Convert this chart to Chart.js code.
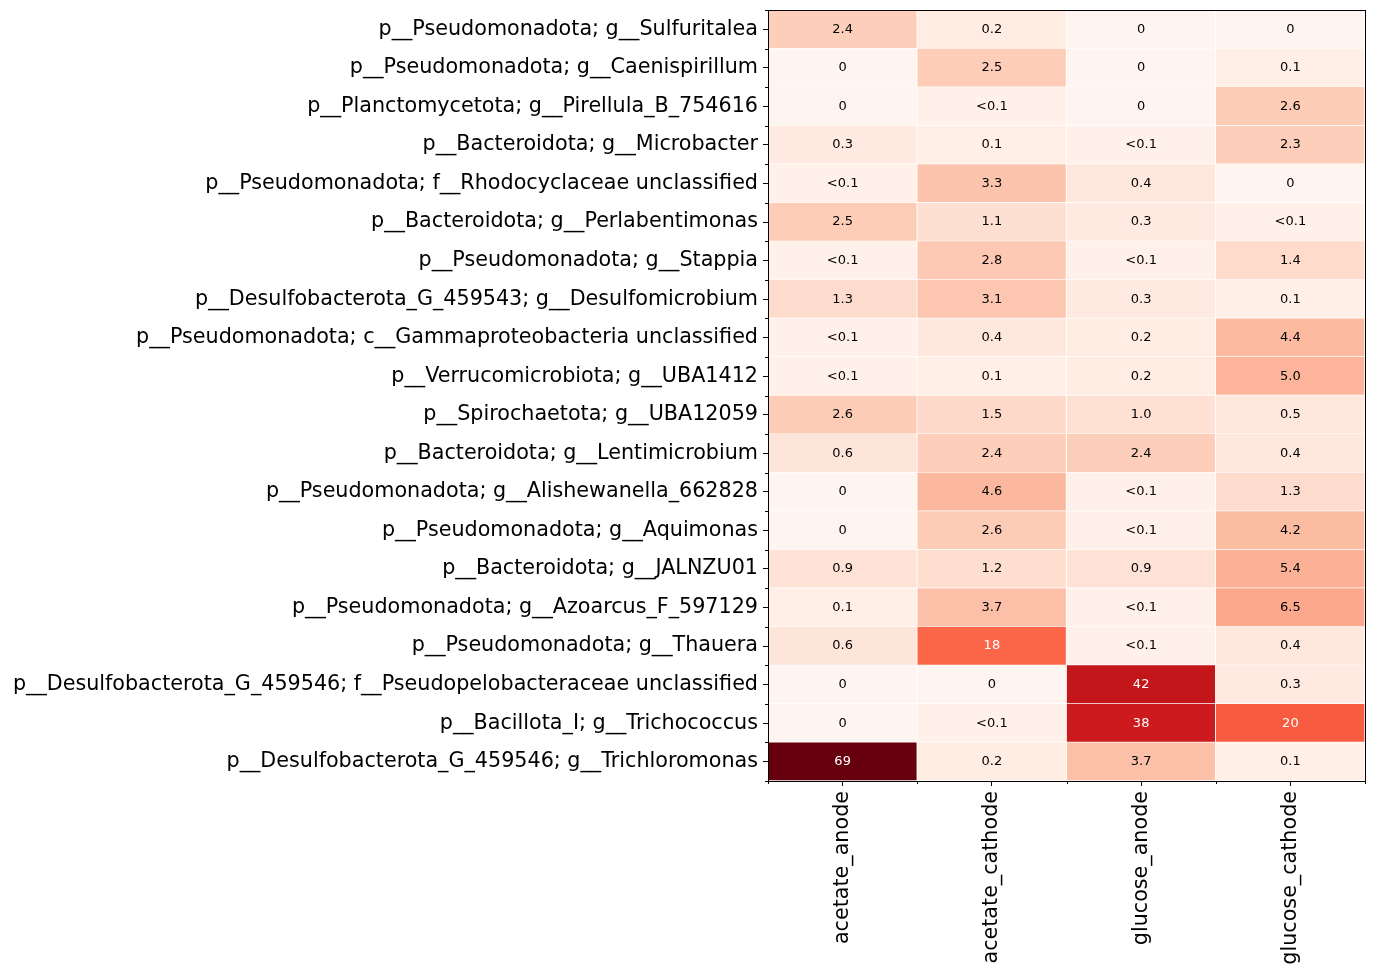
<!DOCTYPE html>
<html>
<head>
<meta charset="utf-8">
<script src="https://cdn.jsdelivr.net/npm/chart.js@4.4.1/dist/chart.umd.min.js"></script>
<style>
  html, body { margin: 0; padding: 0; background: #fff; }
  #wrap { width: 1375px; height: 975px; }
</style>
</head>
<body>
<div id="wrap"><canvas id="heatmap" width="1375" height="975"></canvas></div>
<script>
// rows (top to bottom) and columns of the heatmap
const taxa = [
  'p__Pseudomonadota; g__Sulfuritalea',
  'p__Pseudomonadota; g__Caenispirillum',
  'p__Planctomycetota; g__Pirellula_B_754616',
  'p__Bacteroidota; g__Microbacter',
  'p__Pseudomonadota; f__Rhodocyclaceae unclassified',
  'p__Bacteroidota; g__Perlabentimonas',
  'p__Pseudomonadota; g__Stappia',
  'p__Desulfobacterota_G_459543; g__Desulfomicrobium',
  'p__Pseudomonadota; c__Gammaproteobacteria unclassified',
  'p__Verrucomicrobiota; g__UBA1412',
  'p__Spirochaetota; g__UBA12059',
  'p__Bacteroidota; g__Lentimicrobium',
  'p__Pseudomonadota; g__Alishewanella_662828',
  'p__Pseudomonadota; g__Aquimonas',
  'p__Bacteroidota; g__JALNZU01',
  'p__Pseudomonadota; g__Azoarcus_F_597129',
  'p__Pseudomonadota; g__Thauera',
  'p__Desulfobacterota_G_459546; f__Pseudopelobacteraceae unclassified',
  'p__Bacillota_I; g__Trichococcus',
  'p__Desulfobacterota_G_459546; g__Trichloromonas'
];
const samples = ['acetate_anode', 'acetate_cathode', 'glucose_anode', 'glucose_cathode'];

// relative abundance (%) per sample, 0.05 stands for "<0.1"
const acetateAnode   = [2.4, 0, 0, 0.3, 0.05, 2.5, 0.05, 1.3, 0.05, 0.05, 2.6, 0.6, 0, 0, 0.9, 0.1, 0.6, 0, 0, 69];
const acetateCathode = [0.2, 2.5, 0.05, 0.1, 3.3, 1.1, 2.8, 3.1, 0.4, 0.1, 1.5, 2.4, 4.6, 2.6, 1.2, 3.7, 18, 0, 0.05, 0.2];
const glucoseAnode   = [0, 0, 0, 0.05, 0.4, 0.3, 0.05, 0.3, 0.2, 0.2, 1.0, 2.4, 0.05, 0.05, 0.9, 0.05, 0.05, 42, 38, 3.7];
const glucoseCathode = [0, 0.1, 2.6, 2.3, 0, 0.05, 1.4, 0.1, 4.4, 5.0, 0.5, 0.4, 1.3, 4.2, 5.4, 6.5, 0.4, 0.3, 20, 0.1];

const valores = [acetateAnode, acetateCathode, glucoseAnode, glucoseCathode];
const vmax = Math.max(...valores.flat());

// matplotlib "Reds"
const reds = ['#fff5f0', '#fee0d2', '#fcbba1', '#fc9272', '#fb6a4a', '#ef3b2c', '#cb181d', '#a50f15', '#67000d'];

function hexRgb(h) {
  return [parseInt(h.slice(1, 3), 16), parseInt(h.slice(3, 5), 16), parseInt(h.slice(5, 7), 16)];
}

function norma(v) {
  return Math.sqrt(Math.max(v, 0) / vmax);
}

function colorReds(v) {
  const t = Math.min(1, norma(v)) * (reds.length - 1);
  const i = Math.min(reds.length - 2, Math.floor(t));
  const f = t - i;
  const a = hexRgb(reds[i]), b = hexRgb(reds[i + 1]);
  const c = a.map((x, k) => Math.round(x + (b[k] - x) * f));
  return `rgb(${c[0]}, ${c[1]}, ${c[2]})`;
}

function etiqueta(v) {
  if (v === 0) return '0';
  if (v < 0.1) return '<0.1';
  if (v < 10) return v.toFixed(1);
  return String(Math.round(v));
}

Chart.defaults.font.family = "'DejaVu Sans', sans-serif";
Chart.defaults.color = '#000';

// cell values + minor ticks + frame
const extras = {
  id: 'extras',
  afterDatasetsDraw(chart) {
    const ctx = chart.ctx;
    ctx.save();
    ctx.font = "13px 'DejaVu Sans'";
    ctx.textAlign = 'center';
    ctx.textBaseline = 'middle';
    chart.data.datasets.forEach((ds, d) => {
      const meta = chart.getDatasetMeta(d);
      meta.data.forEach((el, i) => {
        const v = valores[d][i];
        ctx.fillStyle = norma(v) > 0.45 ? '#fff' : '#000';
        ctx.fillText(etiqueta(v), (el.x + el.base) / 2, el.y);
      });
    });
    ctx.restore();
  },
  afterDraw(chart) {
    const ctx = chart.ctx;
    const a = chart.chartArea;
    const xs = chart.scales.x;
    ctx.save();
    ctx.strokeStyle = '#000';
    ctx.lineWidth = 1;
    ctx.beginPath();
    // minor ticks on the cell edges
    const paso = (a.bottom - a.top) / taxa.length;
    for (let i = 0; i <= taxa.length; i++) {
      const y = Math.round(a.top + i * paso) + 0.5;
      ctx.moveTo(a.left, y);
      ctx.lineTo(a.left - 3, y);
    }
    for (let c = 0; c <= samples.length; c++) {
      const x = Math.round(xs.getPixelForValue(c)) + 0.5;
      ctx.moveTo(x, a.bottom);
      ctx.lineTo(x, a.bottom + 3);
    }
    ctx.stroke();
    ctx.strokeRect(Math.round(a.left) + 0.5, Math.round(a.top) + 0.5,
      Math.round(a.right - a.left), Math.round(a.bottom - a.top));
    ctx.restore();
  }
};

const datasets = samples.map((s, c) => ({
  label: s,
  data: taxa.map(() => [c, c + 1]),
  backgroundColor: valores[c].map(colorReds),
  borderColor: '#fff',
  borderWidth: { top: 0, left: 0, right: 1, bottom: 1 },
  borderSkipped: false,
  barPercentage: 1,
  categoryPercentage: 1,
  grouped: false
}));

new Chart(document.getElementById('heatmap').getContext('2d'), {
  type: 'bar',
  data: { labels: taxa, datasets: datasets },
  options: {
    indexAxis: 'y',
    responsive: false,
    animation: false,
    layout: { padding: { top: 10, right: 10, left: 0, bottom: 0 } },
    plugins: { legend: { display: false }, tooltip: { enabled: false } },
    scales: {
      y: {
        type: 'category',
        offset: true,
        grid: { offset: false, drawOnChartArea: false, drawTicks: true, tickLength: 5, color: '#000' },
        border: { display: true, color: '#000' },
        ticks: { autoSkip: false, padding: 5, font: { size: 20.7 } },
        afterFit(scale) {
          scale.width = 768;
          scale.paddingTop = 0;
          scale.paddingBottom = 0;
        }
      },
      x: {
        type: 'linear',
        min: 0,
        max: samples.length,
        grid: { drawOnChartArea: false, drawTicks: true, tickLength: 5, color: '#000' },
        border: { display: true, color: '#000' },
        afterBuildTicks(scale) {
          scale.ticks = samples.map((s, c) => ({ value: c + 0.5 }));
        },
        ticks: {
          autoSkip: false,
          minRotation: 90,
          maxRotation: 90,
          padding: 5,
          font: { size: 20.7 },
          callback: (v) => samples[Math.floor(v)]
        },
        afterFit(scale) {
          scale.height = 194;
          scale.paddingLeft = 0;
          scale.paddingRight = 0;
        }
      }
    }
  },
  plugins: [extras]
});
</script>
</body>
</html>
